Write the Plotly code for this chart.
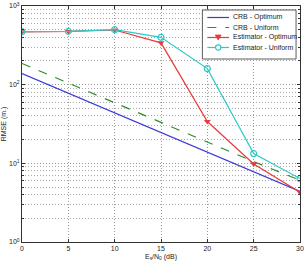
import plotly.graph_objects as go

snr_db = [0, 5, 10, 15, 20, 25, 30]
crb_optimum = [138, 77.6, 43.6, 24.5, 13.8, 7.8, 4.4]
crb_uniform = [186, 105, 59, 33, 18.6, 10.5, 6.1]
est_optimum = [470, 475, 495, 340, 34, 9.8, 4.3]
est_uniform = [472, 477, 500, 400, 160, 13.3, 6.4]

series_names = ["CRB - Optimum", "CRB - Uniform", "Estimator - Optimum", "Estimator - Uniform"]
ytick_vals = [1, 10, 100, 1000]
ytick_text = ["10<sup>0</sup>", "10<sup>1</sup>", "10<sup>2</sup>", "10<sup>3</sup>"]
xtick_vals = [0, 5, 10, 15, 20, 25, 30]

W, H = 305, 263
ML, MR, MT, MB = 22, 1, 6, 21
PW, PH = W - ML - MR, H - MT - MB

def px(x):
    return (x - ML) / PW

def py(y):
    return (H - MB - y) / PH

colors = ["#3a3ad8", "#2e8b2e", "#e83a3a", "#2ec8c8"]
dashes = ["solid", "dash", "solid", "solid"]

fig = go.Figure()
fig.add_trace(go.Scatter(x=snr_db, y=crb_optimum, name=series_names[0], mode="lines",
                         line=dict(color=colors[0], width=1.2)))
fig.add_trace(go.Scatter(x=snr_db, y=crb_uniform, name=series_names[1], mode="lines",
                         line=dict(color=colors[1], width=1.2, dash="dash")))
fig.add_trace(go.Scatter(x=snr_db, y=est_optimum, name=series_names[2], mode="lines+markers",
                         line=dict(color=colors[2], width=1.2),
                         marker=dict(symbol="triangle-down", size=6, color=colors[2])))
fig.add_trace(go.Scatter(x=snr_db, y=est_uniform, name=series_names[3], mode="lines+markers",
                         line=dict(color=colors[3], width=1.2),
                         marker=dict(symbol="circle-open", size=6, color=colors[3], line=dict(width=1.2))))

# compact legend box (drawn in paper space)
shapes = [dict(type="rect", xref="paper", yref="paper",
               x0=px(205), x1=px(300), y0=py(59), y1=py(10),
               line=dict(color="#333", width=0.8), fillcolor="white", layer="above")]
annotations = []
for i, name in enumerate(series_names):
    yy = 17.5 + 10 * i
    shapes.append(dict(type="line", xref="paper", yref="paper",
                       x0=px(210), x1=px(232), y0=py(yy), y1=py(yy),
                       line=dict(color=colors[i], width=1.2, dash=dashes[i]), layer="above"))
    annotations.append(dict(xref="paper", yref="paper", x=px(234), y=py(yy),
                            text=name, showarrow=False, xanchor="left", yanchor="middle",
                            font=dict(size=7, color="#222")))
# legend markers
yy = 37.5
shapes.append(dict(type="path", xref="paper", yref="paper", layer="above",
                   path=f"M {px(218)},{py(yy - 2.5)} L {px(224)},{py(yy - 2.5)} L {px(221)},{py(yy + 2.5)} Z",
                   fillcolor=colors[2], line=dict(color=colors[2], width=0.8)))
yy = 47.5
shapes.append(dict(type="circle", xref="paper", yref="paper", layer="above",
                   x0=px(218.3), x1=px(223.7), y0=py(yy + 2.7), y1=py(yy - 2.7),
                   fillcolor="white", line=dict(color=colors[3], width=1.2)))

fig.update_layout(
    width=W, height=H,
    margin=dict(l=ML, r=MR, t=MT, b=MB),
    paper_bgcolor="white", plot_bgcolor="white",
    font=dict(family="Liberation Sans, Arial", size=7, color="#222"),
    showlegend=False,
    shapes=shapes, annotations=annotations,
)
fig.update_xaxes(
    range=[0, 30], tickvals=xtick_vals, ticks="inside", ticklen=3, tickcolor="#333",
    showline=True, linecolor="#333", linewidth=1, mirror="ticks",
    showgrid=True, gridcolor="#999", griddash="1px,2px", gridwidth=1,
    zeroline=False, ticklabeloverflow="allow",
    title=dict(text="E<sub>s</sub>/N<sub>0</sub> (dB)", font=dict(size=7), standoff=2),
)
fig.update_yaxes(
    type="log", range=[0, 3], tickvals=ytick_vals, ticktext=ytick_text,
    ticks="inside", ticklen=3, tickcolor="#333",
    showline=True, linecolor="#333", linewidth=1, mirror="ticks",
    showgrid=True, gridcolor="#999", griddash="1px,2px", gridwidth=1,
    minor=dict(showgrid=True, gridcolor="#aaa", griddash="1px,2px", gridwidth=1,
               ticks="inside", ticklen=2, tickcolor="#333",
               tickvals=[v * m for v in [1, 10, 100] for m in range(2, 10)]),
    zeroline=False,
    title=dict(text="RMSE (m.)", font=dict(size=7), standoff=2),
)

fig.write_html("out.html")
